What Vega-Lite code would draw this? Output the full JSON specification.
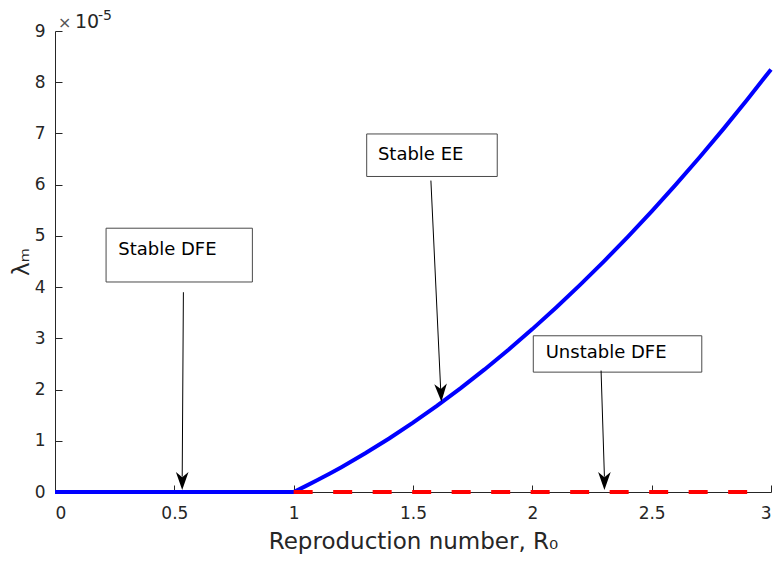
{
  "$schema": "https://vega.github.io/schema/vega-lite/v6.json",
  "width": 716,
  "height": 461,
  "autosize": "none",
  "padding": {"left": 55, "top": 31, "right": 4, "bottom": 69},
  "background": "white",
  "config": {
    "view": {"stroke": null},
    "font": "DejaVu Sans",
    "axis": {
      "grid": false,
      "domainColor": "#262626",
      "tickColor": "#262626",
      "labelColor": "#262626",
      "titleColor": "#262626",
      "labelFont": "DejaVu Sans",
      "titleFont": "DejaVu Sans",
      "labelFontSize": 17,
      "titleFontSize": 21,
      "titleFontWeight": "normal",
      "tickSize": -7,
      "domainWidth": 1,
      "tickWidth": 1
    }
  },
  "datasets": {
    "stable": [
      {"R0": 0, "lam": 0},
      {"R0": 1, "lam": 0},
      {"R0": 1.05, "lam": 0.114},
      {"R0": 1.1, "lam": 0.233},
      {"R0": 1.15, "lam": 0.356},
      {"R0": 1.2, "lam": 0.485},
      {"R0": 1.3, "lam": 0.756},
      {"R0": 1.4, "lam": 1.045},
      {"R0": 1.5, "lam": 1.354},
      {"R0": 1.6, "lam": 1.681},
      {"R0": 1.7, "lam": 2.028},
      {"R0": 1.8, "lam": 2.393},
      {"R0": 1.9, "lam": 2.777},
      {"R0": 2.0, "lam": 3.18},
      {"R0": 2.1, "lam": 3.602},
      {"R0": 2.2, "lam": 4.043},
      {"R0": 2.3, "lam": 4.503},
      {"R0": 2.4, "lam": 4.981},
      {"R0": 2.5, "lam": 5.48},
      {"R0": 2.6, "lam": 5.995},
      {"R0": 2.7, "lam": 6.531},
      {"R0": 2.8, "lam": 7.085},
      {"R0": 2.9, "lam": 7.658},
      {"R0": 3.0, "lam": 8.25}
    ],
    "unstable": [
      {"R0": 1, "lam": 0},
      {"R0": 2.92, "lam": 0}
    ],
    "boxes": [
      {"label": "Stable DFE", "x1": 0.214, "x2": 0.827, "y1": 5.15, "y2": 4.1, "tx": 0.265, "ty": 4.72},
      {"label": "Stable EE", "x1": 1.306, "x2": 1.853, "y1": 6.99, "y2": 6.16, "tx": 1.353, "ty": 6.57},
      {"label": "Unstable DFE", "x1": 2.004, "x2": 2.71, "y1": 3.05, "y2": 2.34, "tx": 2.056, "ty": 2.71}
    ],
    "arrows": [
      {"name": "Stable DFE", "xs": 0.538, "ys": 3.9, "xe": 0.533, "ye": 0.3},
      {"name": "Stable EE", "xs": 1.575, "ys": 6.08, "xe": 1.616, "ye": 2.0},
      {"name": "Unstable DFE", "xs": 2.288, "ys": 2.37, "xe": 2.302, "ye": 0.3}
    ],
    "tipsV": [
      {"name": "Stable DFE", "R0": 0.533, "lam": 0.04},
      {"name": "Unstable DFE", "R0": 2.302, "lam": 0.04}
    ],
    "tipsT": [
      {"name": "Stable EE", "R0": 1.619, "lam": 1.76}
    ]
  },
  "layer": [
    {
      "data": {"name": "stable"},
      "mark": {"type": "line", "color": "#0000ff", "strokeWidth": 4, "clip": false},
      "encoding": {
        "x": {
          "field": "R0", "type": "quantitative",
          "scale": {"domain": [0, 3], "nice": false, "zero": false},
          "axis": {"values": [0, 0.5, 1, 1.5, 2, 2.5, 3], "format": "~g", "title": "Reproduction number, R₀", "titleFontSize": 23, "labelPadding": 20, "titlePadding": 9}
        },
        "y": {
          "field": "lam", "type": "quantitative",
          "scale": {"domain": [0, 9], "nice": false},
          "axis": {"values": [0, 1, 2, 3, 4, 5, 6, 7, 8, 9], "format": "d", "title": "λₘ", "titleFontSize": 23, "labelPadding": 17, "titlePadding": 1}
        }
      }
    },
    {
      "data": {"name": "unstable"},
      "mark": {"type": "line", "color": "#ff0000", "strokeWidth": 4, "strokeDash": [19, 20.5], "clip": false},
      "encoding": {
        "x": {"field": "R0", "type": "quantitative"},
        "y": {"field": "lam", "type": "quantitative"}
      }
    },
    {
      "data": {"name": "boxes"},
      "mark": {"type": "rect", "fill": "white", "stroke": "#4a4a4a", "strokeWidth": 1},
      "encoding": {
        "x": {"field": "x1", "type": "quantitative"},
        "x2": {"field": "x2"},
        "y": {"field": "y1", "type": "quantitative"},
        "y2": {"field": "y2"}
      }
    },
    {
      "data": {"name": "boxes"},
      "mark": {"type": "text", "align": "left", "baseline": "middle", "fontSize": 18, "color": "#000000", "font": "DejaVu Sans"},
      "encoding": {
        "x": {"field": "tx", "type": "quantitative"},
        "y": {"field": "ty", "type": "quantitative"},
        "text": {"field": "label"}
      }
    },
    {
      "data": {"name": "arrows"},
      "mark": {"type": "rule", "color": "#000000", "strokeWidth": 1},
      "encoding": {
        "x": {"field": "xs", "type": "quantitative"},
        "y": {"field": "ys", "type": "quantitative"},
        "x2": {"field": "xe"},
        "y2": {"field": "ye"}
      }
    },
    {
      "data": {"name": "tipsV"},
      "mark": {"type": "point", "shape": "M0,0L-0.42,-1.2L0,-0.85L0.42,-1.2Z", "size": 900, "filled": true, "color": "#000000", "opacity": 1, "strokeWidth": 0},
      "encoding": {
        "x": {"field": "R0", "type": "quantitative"},
        "y": {"field": "lam", "type": "quantitative"}
      }
    },
    {
      "data": {"name": "tipsT"},
      "mark": {"type": "point", "shape": "M0,0L-0.42,-1.2L0,-0.85L0.42,-1.2Z", "size": 900, "filled": true, "color": "#000000", "opacity": 1, "strokeWidth": 0, "angle": -2.6},
      "encoding": {
        "x": {"field": "R0", "type": "quantitative"},
        "y": {"field": "lam", "type": "quantitative"}
      }
    },
    {
      "data": {"values": [{"R0": 0, "lam": 9}]},
      "layer": [
        {
          "mark": {"type": "text", "text": "×", "align": "left", "baseline": "alphabetic", "fontSize": 16, "color": "#555555", "dx": 3, "dy": -3, "clip": false},
          "encoding": {"x": {"field": "R0", "type": "quantitative"}, "y": {"field": "lam", "type": "quantitative"}}
        },
        {
          "mark": {"type": "text", "text": "10", "align": "left", "baseline": "alphabetic", "fontSize": 19, "color": "#262626", "dx": 20, "dy": -3, "clip": false},
          "encoding": {"x": {"field": "R0", "type": "quantitative"}, "y": {"field": "lam", "type": "quantitative"}}
        },
        {
          "mark": {"type": "text", "text": "-5", "align": "left", "baseline": "alphabetic", "fontSize": 14, "color": "#262626", "dx": 43, "dy": -11, "clip": false},
          "encoding": {"x": {"field": "R0", "type": "quantitative"}, "y": {"field": "lam", "type": "quantitative"}}
        }
      ]
    }
  ]
}
